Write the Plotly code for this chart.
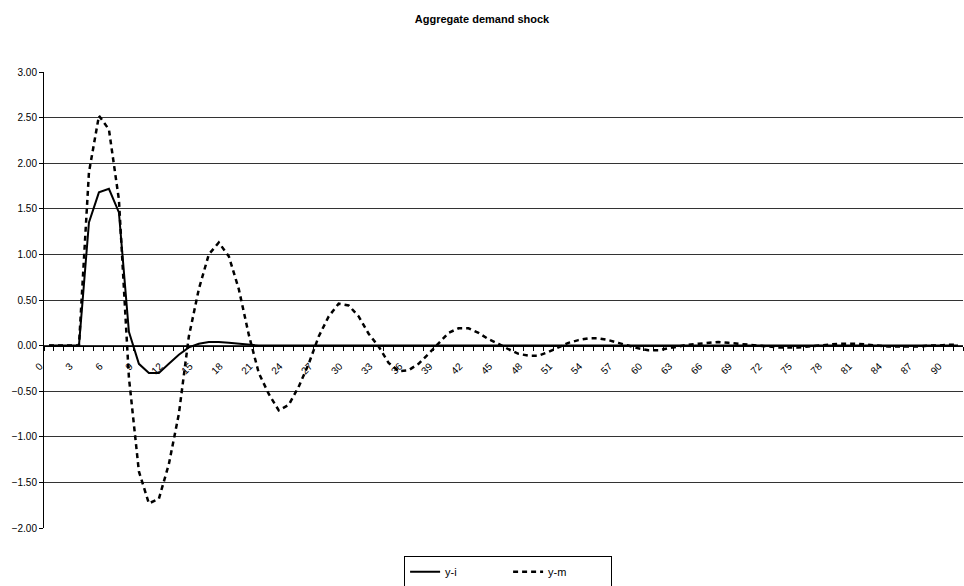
import plotly.graph_objects as go

categories = list(range(92))

y_i = [0, 0, 0, 0, 1.35, 1.68, 1.72, 1.46, 0.15, -0.20,
       -0.30, -0.30, -0.20, -0.10, -0.02, 0.02, 0.04, 0.04, 0.03, 0.02,
       0.01, 0.00, 0, 0, 0, 0, 0, 0, 0, 0,
       0, 0, 0, 0, 0, 0, 0, 0, 0, 0,
       0, 0, 0, 0, 0, 0, 0, 0, 0, 0,
       0, 0, 0, 0, 0, 0, 0, 0, 0, 0,
       0, 0, 0, 0, 0, 0, 0, 0, 0, 0,
       0, 0, 0, 0, 0, 0, 0, 0, 0, 0,
       0, 0, 0, 0, 0, 0, 0, 0, 0, 0,
       0, 0]

y_m = [0, 0, 0, 0, 1.90, 2.52, 2.37, 1.60, -0.35, -1.38,
       -1.73, -1.68, -1.30, -0.75, 0.10, 0.62, 1.00, 1.13, 0.98, 0.62,
       0.12, -0.30, -0.53, -0.71, -0.65, -0.45, -0.20, 0.10, 0.32, 0.46,
       0.44, 0.32, 0.13, -0.01, -0.19, -0.28, -0.27, -0.20, -0.09, 0.03,
       0.14, 0.19, 0.19, 0.14, 0.07, 0.02, -0.04, -0.09, -0.11, -0.11,
       -0.07, -0.02, 0.03, 0.06, 0.08, 0.08, 0.06, 0.03, 0.00, -0.03,
       -0.05, -0.05, -0.03, -0.01, 0.01, 0.02, 0.03, 0.04, 0.03, 0.02,
       0.01, 0.00, -0.01, -0.02, -0.02, -0.02, -0.01, 0.00, 0.01, 0.02,
       0.02, 0.02, 0.01, 0.00, -0.01, -0.01, -0.01, -0.01, 0.00, 0.00,
       0.01, 0.01]

x_tick_labels = [str(v) for v in range(0, 91, 3)]
y_ticks = [-2.0, -1.5, -1.0, -0.5, 0.0, 0.5, 1.0, 1.5, 2.0, 2.5, 3.0]

font_family = "Arial, Liberation Sans, sans-serif"

fig = go.Figure()
fig.add_trace(go.Scatter(
    x=categories, y=y_i, name="y-i", mode="lines",
    line=dict(color="black", width=2),
))
fig.add_trace(go.Scatter(
    x=categories, y=y_m, name="y-m", mode="lines",
    line=dict(color="black", width=2.5, dash="5px,4px"),
))

y_min, y_max = -2.0, 3.0
zero_pos = (0 - y_min) / (y_max - y_min)

fig.update_layout(
    width=964, height=586,
    margin=dict(l=44, r=1, t=72, b=58, autoexpand=False),
    paper_bgcolor="white", plot_bgcolor="white",
    font=dict(family=font_family, color="black", size=10),
    title=dict(text="<b>Aggregate demand shock</b>", x=0.5, xanchor="center",
               xref="container", y=1 - 19 / 586, yanchor="middle", yref="container",
               font=dict(size=11, family=font_family, color="black")),
    showlegend=True,
    legend=dict(orientation="h", x=0.505, xanchor="center", y=-0.062, yanchor="top",
                bordercolor="black", borderwidth=1, bgcolor="white",
                font=dict(size=11, family=font_family), entrywidth=58,
                entrywidthmode="pixels"),
    xaxis=dict(
        range=[-0.5, 91.5], anchor="free", position=zero_pos, automargin=False,
        showline=True, linecolor="black", linewidth=1,
        showgrid=False, zeroline=False,
        tickmode="array", tickvals=[int(t) for t in x_tick_labels], ticktext=x_tick_labels,
        ticks="", tickangle=-45, ticklabelstandoff=10, ticklabelshift=-9,
        tickfont=dict(size=10, family=font_family, color="black"),
        minor=dict(tickmode="array", tickvals=[c - 0.5 for c in categories] + [91.5],
                   ticks="outside", ticklen=4, tickcolor="black", tickwidth=1, showgrid=False),
    ),
    yaxis=dict(
        range=[y_min, y_max], tickmode="array", tickvals=y_ticks, automargin=False,
        tickformat=".2f", showline=True, linecolor="black", linewidth=1,
        showgrid=True, gridcolor="#333333", gridwidth=1, zeroline=False,
        ticks="outside", ticklen=4, tickcolor="black",
        tickfont=dict(size=10, family=font_family, color="black"),
    ),
)

fig.write_html("out.html", config={"displayModeBar": False},
               post_script="document.body.style.margin='0';document.body.style.overflow='hidden';")
